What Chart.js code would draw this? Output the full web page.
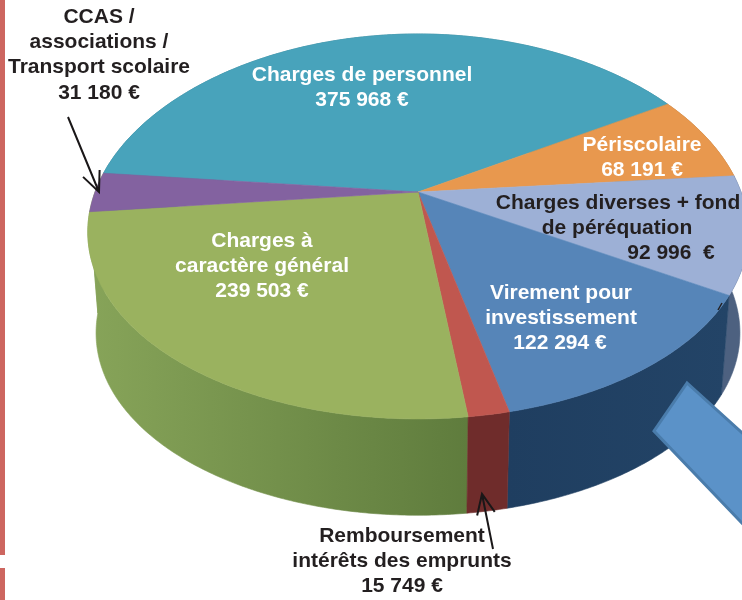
<!DOCTYPE html>
<html>
<head>
<meta charset="utf-8">
<title>Charges de fonctionnement</title>
<script src="https://cdn.jsdelivr.net/npm/chart.js@4"></script>
<style>
  html, body { margin: 0; padding: 0; background: #fff; }
  canvas { display: block; }
</style>
</head>
<body>
<canvas id="pie-chart" width="742" height="600"></canvas>
<script>
const categories = [
  ["Charges de personnel"],
  ["Périscolaire"],
  ["Charges diverses + fond", "de péréquation"],
  ["Virement pour", "investissement"],
  ["Remboursement", "intérêts des emprunts"],
  ["Charges à", "caractère général"],
  ["CCAS /", "associations /", "Transport scolaire"]
];
const amounts = [375968, 68191, 92996, 122294, 15749, 239503, 31180];
const amountLabels = ["375 968 €", "68 191 €", "92 996  €", "122 294 €", "15 749 €", "239 503 €", "31 180 €"];
const topColors = ["#48a3bb", "#e8984e", "#9db0d6", "#5685b8", "#c0574f", "#9ab25f", "#8362a0"];
const sideColors = [
  ["#2f7d90", "#2f7d90"], ["#b0703a", "#b0703a"], ["#4d6180", "#4d6180"], ["#1f3e60", "#234467"],
  ["#6f2c2b", "#6f2c2b"], ["#87a459", "#5f7c3d"], ["#87a459", "#87a459"]
];
const textColors = ["#fff", "#fff", "#231f20", "#fff", "#231f20", "#fff", "#231f20"];
// centre x of each text line, middle y of first line
const textSpots = [
  [[362, 362], 75], [[642, 642], 145], [[618, 617, 671], 203], [[561, 561, 560], 293],
  [[402, 402, 402], 536], [[262, 262, 262], 241], [[99, 99, 99, 99], 17]
];

// perspective view of the disc
const view = { cx: 418, cy: 192, rx: 323, ry: 186.3, k: 0.179, flare: 0.03, drop: 102, shrink: 0.975 };

function project(angle, bottom) {
  const x = Math.cos(angle), y = Math.sin(angle);
  const w = 1 - view.k * y;
  const s = bottom ? view.shrink : 1;
  return {
    x: view.cx + s * view.rx * x * (1 + view.flare * y) / w,
    y: view.cy + (bottom ? view.drop : 0) + s * view.ry * y / w
  };
}

function rimPoints(start, end, bottom) {
  const n = Math.max(2, Math.ceil((end - start) / 0.01));
  const pts = [];
  for (let i = 0; i <= n; i++)
    pts.push(project(start + (end - start) * i / n, bottom));
  return pts;
}

function tracePath(ctx, pts) {
  ctx.beginPath();
  pts.forEach((p, i) => i ? ctx.lineTo(p.x, p.y) : ctx.moveTo(p.x, p.y));
  ctx.closePath();
}

const pie3d = {
  id: "pie3d",
  beforeDatasetDraw(chart) {
    const ctx = chart.ctx;
    const arcs = chart.getDatasetMeta(0).data;
    // back slices first so the front walls cover them
    const order = arcs.map((a, i) => i).sort((a, b) =>
      Math.sin((arcs[a].startAngle + arcs[a].endAngle) / 2) - Math.sin((arcs[b].startAngle + arcs[b].endAngle) / 2));
    order.forEach((i) => {
      const top = rimPoints(arcs[i].startAngle, arcs[i].endAngle, false);
      const low = rimPoints(arcs[i].startAngle, arcs[i].endAngle, true);
      const xs = top.concat(low).map((p) => p.x);
      const g = ctx.createLinearGradient(Math.min(...xs), 0, Math.max(...xs), 0);
      g.addColorStop(0, sideColors[i][0]);
      g.addColorStop(1, sideColors[i][1]);
      ctx.fillStyle = g;
      ctx.strokeStyle = g;
      ctx.lineWidth = 0.6;
      tracePath(ctx, top.concat(low.reverse()));
      ctx.fill();
      ctx.stroke();
    });
    arcs.forEach((arc) => {
      const pts = [{ x: view.cx, y: view.cy }].concat(rimPoints(arc.startAngle, arc.endAngle, false));
      ctx.fillStyle = arc.options.backgroundColor;
      ctx.strokeStyle = arc.options.backgroundColor;
      ctx.lineWidth = 0.6;
      tracePath(ctx, pts);
      ctx.fill();
      ctx.stroke();
    });
    return false;
  },
  afterDraw(chart) {
    const ctx = chart.ctx;
    // red strip on the page edge
    ctx.fillStyle = "#cd6660";
    ctx.fillRect(0, 0, 5, 555);
    ctx.fillRect(0, 568, 5, 32);
    // blue box bottom right
    ctx.beginPath();
    ctx.moveTo(687, 383);
    ctx.lineTo(654, 431);
    ctx.lineTo(760, 542);
    ctx.lineTo(760, 449);
    ctx.closePath();
    ctx.fillStyle = "#5b92c8";
    ctx.strokeStyle = "#4a7cab";
    ctx.lineWidth = 3;
    ctx.fill();
    ctx.stroke();
    // pointers
    drawPointer(ctx, 68, 117, 99, 192);
    drawPointer(ctx, 493, 549, 482, 494);
    ctx.strokeStyle = "#231f20";
    ctx.lineWidth = 1.5;
    ctx.beginPath();
    ctx.moveTo(722, 303);
    ctx.lineTo(718, 310);
    ctx.stroke();
    // labels
    ctx.font = "bold 21px 'Liberation Sans', Arial, sans-serif";
    ctx.textAlign = "center";
    ctx.textBaseline = "middle";
    categories.forEach((lines, i) => {
      const [xs, y0] = textSpots[i];
      ctx.fillStyle = textColors[i];
      lines.concat(amountLabels[i]).forEach((line, j) => {
        ctx.fillText(line, xs[j], y0 + j * 25.3);
      });
    });
  }
};

function drawPointer(ctx, x0, y0, x1, y1) {
  const a = Math.atan2(y1 - y0, x1 - x0), len = 22, spread = 0.42;
  ctx.strokeStyle = "#1a1718";
  ctx.lineWidth = 2;
  ctx.beginPath();
  ctx.moveTo(x0, y0);
  ctx.lineTo(x1, y1);
  ctx.moveTo(x1 - len * Math.cos(a - spread), y1 - len * Math.sin(a - spread));
  ctx.lineTo(x1, y1);
  ctx.lineTo(x1 - len * Math.cos(a + spread), y1 - len * Math.sin(a + spread));
  ctx.stroke();
}

new Chart(document.getElementById("pie-chart"), {
  type: "pie",
  data: {
    labels: categories.map((c) => c.join(" ")),
    datasets: [{ data: amounts, backgroundColor: topColors, borderWidth: 0 }]
  },
  options: {
    responsive: false,
    animation: false,
    rotation: -84.1,
    plugins: { legend: { display: false }, tooltip: { enabled: false } }
  },
  plugins: [pie3d]
});
</script>
</body>
</html>
